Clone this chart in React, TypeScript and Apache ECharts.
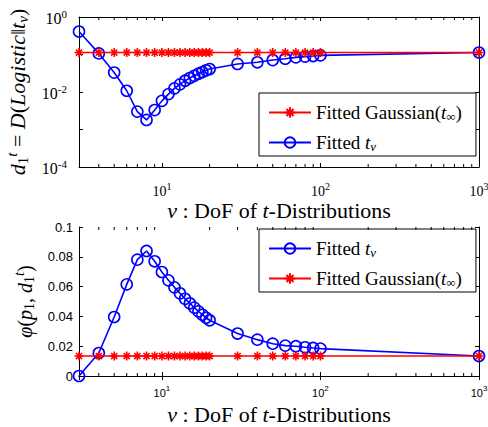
import React, { useEffect, useRef } from 'react';
import * as echarts from 'echarts';

// Degrees of freedom (x values)
const nu = [3, 4, 5, 6, 7, 8, 9, 10, 11, 12, 13, 14, 15, 16, 17, 18, 19, 20, 30, 40, 50, 60, 70, 80, 90, 100, 1000];

// Top panel: d_1^t = D(Logistic || t_nu)
const klTnu = [0.41, 0.107, 0.033, 0.0108, 0.003, 0.0018, 0.0033, 0.0058, 0.0088, 0.0125, 0.016, 0.02, 0.0236, 0.027, 0.0308, 0.034, 0.038, 0.041, 0.056, 0.062, 0.071, 0.077, 0.084, 0.088, 0.091, 0.095, 0.113];
const klGauss = [0.113, 0.113, 0.113, 0.113, 0.113, 0.113, 0.113, 0.113, 0.113, 0.113, 0.113, 0.113, 0.113, 0.113, 0.113, 0.113, 0.113, 0.113, 0.113, 0.113, 0.113, 0.113, 0.113, 0.113, 0.113, 0.113, 0.113];

// Bottom panel: phi(p_1, d_1^t)
const phiTnu = [0, 0.0154, 0.0396, 0.0615, 0.0781, 0.0839, 0.077, 0.0698, 0.0642, 0.0595, 0.0555, 0.0518, 0.0488, 0.0459, 0.0434, 0.0411, 0.0391, 0.0374, 0.0285, 0.0244, 0.0217, 0.0204, 0.02, 0.0193, 0.0188, 0.0184, 0.0134];
const phiGauss = [0.0134, 0.0134, 0.0134, 0.0134, 0.0134, 0.0134, 0.0134, 0.0134, 0.0134, 0.0134, 0.0134, 0.0134, 0.0134, 0.0134, 0.0134, 0.0134, 0.0134, 0.0134, 0.0134, 0.0134, 0.0134, 0.0134, 0.0134, 0.0134, 0.0134, 0.0134, 0.0134];

// Axis extents and tick labels
const xExtent = [3, 1000];
const topYExtent = [0.0001, 1];
const botYExtent = [0, 0.1];
const topYLabelExps = [-4, -2, 0];
const xLabelExps = [1, 2, 3];
const xMinorTicks = [4, 5, 6, 7, 8, 9, 20, 30, 40, 50, 60, 70, 80, 90, 200, 300, 400, 500, 600, 700, 800, 900];

const SERIF = "'Liberation Serif', 'Times New Roman', serif";
const SANS = "'Liberation Sans', Arial, sans-serif";
const RED = '#ff0000';
const BLUE = '#0000ff';

const STAR = 'path://M5,0 L5,10 M0,5 L10,5 M1.6,1.6 L8.4,8.4 M1.6,8.4 L8.4,1.6';

const mathRich = (fs: number, lh: number) => {
  const small = Math.round(fs * 0.7);
  return {
    n: { fontFamily: SERIF, fontSize: fs, lineHeight: lh, color: '#000' },
    i: { fontFamily: SERIF, fontStyle: 'italic', fontSize: fs, lineHeight: lh, color: '#000' },
    sub: { fontFamily: SERIF, fontSize: small, lineHeight: small, verticalAlign: 'bottom', color: '#000' },
    isub: { fontFamily: SERIF, fontStyle: 'italic', fontSize: small, lineHeight: small, verticalAlign: 'bottom', color: '#000' },
    isup: { fontFamily: SERIF, fontStyle: 'italic', fontSize: small, lineHeight: small, verticalAlign: 'top', color: '#000' },
  };
};

const powRich = (family: string, fs: number) => ({
  b: { fontFamily: family, fontSize: fs, lineHeight: fs + 7, color: '#000' },
  s: { fontFamily: family, fontSize: Math.round(fs * 0.72), lineHeight: Math.round(fs * 0.72), verticalAlign: 'top', color: '#000' },
});

// y labels: digits sit slightly below the tick, exponent above
const powRichY = (family: string, fs: number) => {
  const small = Math.round(fs * 0.7);
  return {
    b: { fontFamily: family, fontSize: fs, lineHeight: fs + 2, verticalAlign: 'bottom', color: '#000' },
    s: { fontFamily: family, fontSize: small, lineHeight: small + 1, padding: [0, 0, 12, 0], verticalAlign: 'top', color: '#000' },
  };
};

const legendNames: Record<string, string> = {
  gauss: '{n|Fitted Gaussian(}{i|t}{sub|∞}{n|)}',
  tnu: '{n|Fitted }{i|t}{isub|ν}',
};

const xName = '{i|ν}{n| : DoF of }{i|t}{n|-Distributions}';

function minorTickSeries(xi: number, yi: number, yExt: number[]) {
  return {
    type: 'custom',
    xAxisIndex: xi,
    yAxisIndex: yi,
    silent: true,
    clip: false,
    z: 5,
    data: xMinorTicks.map((v) => [v, yExt[0]]),
    renderItem: (_params: any, api: any) => {
      const v = api.value(0);
      const pb = api.coord([v, yExt[0]]);
      const pt = api.coord([v, yExt[1]]);
      return {
        type: 'group',
        children: [
          { type: 'line', shape: { x1: pb[0], y1: pb[1], x2: pb[0], y2: pb[1] - 3 }, style: { stroke: '#000', lineWidth: 1 } },
          { type: 'line', shape: { x1: pt[0], y1: pt[1], x2: pt[0], y2: pt[1] + 3 }, style: { stroke: '#000', lineWidth: 1 } },
        ],
      };
    },
  };
}

const axisLine = { show: true, lineStyle: { color: '#000', width: 1 } };
const tickIn = { show: true, inside: true, length: 4, lineStyle: { color: '#000', width: 1 } };

function xAxes(grid: number, family: string, fs: number, margin: number, nameGap: number) {
  return [
    {
      gridIndex: grid,
      type: 'log',
      logBase: 10,
      min: xExtent[0],
      max: xExtent[1],
      position: 'bottom',
      axisLine,
      axisTick: tickIn,
      splitLine: { show: false },
      axisLabel: {
        showMinLabel: false,
        margin,
        formatter: (v: number) => {
          const e = Math.round(Math.log10(v));
          return xLabelExps.includes(e) && Math.abs(Math.log10(v) - e) < 1e-6 ? `{b|10}{s|${e}}` : '';
        },
        rich: powRich(family, fs),
      },
      name: xName,
      nameLocation: 'middle',
      nameGap,
      nameTextStyle: { rich: mathRich(22, 24) },
    },
    {
      gridIndex: grid,
      type: 'log',
      logBase: 10,
      min: xExtent[0],
      max: xExtent[1],
      position: 'top',
      axisLine,
      axisTick: tickIn,
      splitLine: { show: false },
      axisLabel: { show: false },
    },
  ];
}

function lineSeries(name: string, xi: number, yi: number, ys: number[]) {
  const isT = name === 'tnu';
  const c = isT ? BLUE : RED;
  return {
    type: 'line',
    name,
    xAxisIndex: xi,
    yAxisIndex: yi,
    data: nu.map((x, k) => [x, ys[k]]),
    clip: false,
    symbol: isT ? 'circle' : STAR,
    symbolSize: isT ? 11 : 9,
    lineStyle: { color: c, width: 1.6 },
    itemStyle: { color: isT ? 'rgba(0,0,0,0)' : c, borderColor: c, borderWidth: 1.6 },
    emphasis: { disabled: true },
    z: isT ? 3 : 4,
  };
}

function legendFor(top: number, order: string[]) {
  return {
    orient: 'vertical',
    left: 259,
    top,
    data: order,
    itemWidth: 42,
    itemHeight: 13,
    itemGap: 10,
    padding: [10, 14, 3, 9],
    borderColor: '#000',
    borderWidth: 1,
    borderRadius: 0,
    backgroundColor: '#fff',
    selectedMode: false,
    formatter: (n: string) => legendNames[n],
    textStyle: { rich: mathRich(19, 21) },
  };
}

export default function App() {
  const ref = useRef<HTMLDivElement>(null);
  useEffect(() => {
    if (!ref.current) return;
    const chart = echarts.init(ref.current, undefined, { renderer: 'svg' });
    chart.setOption({
      animation: false,
      backgroundColor: '#fff',
      grid: [
        { left: 79, top: 17, width: 400, height: 150, outerBoundsMode: 'none', containLabel: false },
        { left: 79, top: 227, width: 400, height: 149, outerBoundsMode: 'none', containLabel: false },
      ],
      legend: [legendFor(93, ['gauss', 'tnu']), legendFor(229, ['tnu', 'gauss'])],
      xAxis: [...xAxes(0, SERIF, 14, 14, 26), ...xAxes(1, SANS, 11, 8, 26)],
      yAxis: [
        {
          gridIndex: 0,
          type: 'log',
          logBase: 10,
          min: topYExtent[0],
          max: topYExtent[1],
          position: 'left',
          axisLine,
          axisTick: tickIn,
          splitLine: { show: false },
          axisLabel: {
            margin: 12,
            formatter: (v: number) => {
              const e = Math.round(Math.log10(v));
              return topYLabelExps.includes(e) ? `{b|10}{s|${e}}` : '';
            },
            rich: powRichY(SERIF, 16),
          },
          name: '{i|d}{sub|1}{isup|t}{n| = }{i|D}{n|(}{i|Logistic}{n|‖}{i|t}{isub|ν}{n|)}',
          nameLocation: 'middle',
          nameGap: 45,
          nameRotate: 90,
          nameTextStyle: { rich: mathRich(22, 26) },
        },
        {
          gridIndex: 0,
          type: 'log',
          logBase: 10,
          min: topYExtent[0],
          max: topYExtent[1],
          position: 'right',
          axisLine,
          axisTick: tickIn,
          splitLine: { show: false },
          axisLabel: { show: false },
        },
        {
          gridIndex: 1,
          type: 'value',
          min: botYExtent[0],
          max: botYExtent[1],
          interval: 0.02,
          position: 'left',
          axisLine,
          axisTick: tickIn,
          splitLine: { show: false },
          axisLabel: { margin: 6, fontFamily: SANS, fontSize: 13, color: '#000' },
          name: '{i|φ}{n|(}{i|p}{sub|1}{n|, }{i|d}{sub|1}{isup|t}{n|)}',
          nameLocation: 'middle',
          nameGap: 39,
          nameRotate: 90,
          nameTextStyle: { rich: mathRich(20, 24) },
        },
        {
          gridIndex: 1,
          type: 'value',
          min: botYExtent[0],
          max: botYExtent[1],
          interval: 0.02,
          position: 'right',
          axisLine,
          axisTick: tickIn,
          splitLine: { show: false },
          axisLabel: { show: false },
        },
      ],
      series: [
        lineSeries('gauss', 0, 0, klGauss),
        lineSeries('tnu', 0, 0, klTnu),
        lineSeries('tnu', 2, 2, phiTnu),
        lineSeries('gauss', 2, 2, phiGauss),
        minorTickSeries(0, 0, topYExtent),
        minorTickSeries(2, 2, botYExtent),
      ],
    });
    return () => chart.dispose();
  }, []);
  return <div ref={ref} style={{ position: 'absolute', left: 0, top: 0, width: 488, height: 427 }} />;
}
